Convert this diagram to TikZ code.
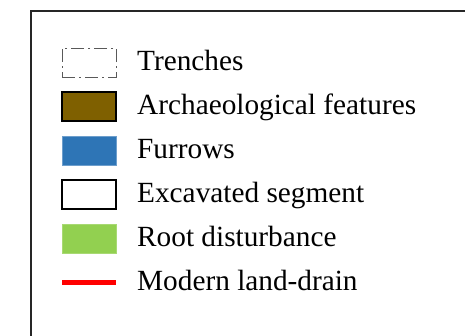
\documentclass[tikz,border=0pt]{standalone}
\usepackage{fontspec}
\setmainfont{Liberation Serif}
\usetikzlibrary{positioning}
\definecolor{archbrown}{HTML}{7F6000}
\definecolor{furrowblue}{HTML}{2E75B6}
\definecolor{rootgreen}{HTML}{92D050}
\definecolor{trenchgrey}{HTML}{595959}
\tikzset{
  keybox/.style={minimum width=54bp, minimum height=29bp, inner sep=0pt, outer sep=0pt},
  keytext/.style={anchor=base west, inner sep=0pt, font=\fontsize{29.4}{35}\selectfont},
}
\begin{document}
\begin{tikzpicture}[x=1bp,y=-1bp]
        \clip (0,0) rectangle (465,335);
        \fill [white] (0,0) rectangle (465,335);
        \draw [line width=2bp,black!85] (31,11) rectangle (520,390);
        % key symbols
        \node (trench) [keybox,draw=trenchgrey,line width=1bp,
            dash pattern=on 13bp off 4bp on 2bp off 4bp] at (89,62.5) {};
        \node (arch) [keybox,fill=archbrown,draw=black,line width=1.5bp] at (89,106.5) {};
        \node (furrow) [keybox,fill=furrowblue,draw=furrowblue!70!white,line width=.5bp] at (89,150.5) {};
        \node (excav) [keybox,fill=white,draw=black,line width=1.5bp] at (89,194.5) {};
        \node (root) [keybox,fill=rootgreen,draw=rootgreen!80!white,line width=.5bp] at (89,238.5) {};
        \coordinate (drainA) at (62,282.5);
        \coordinate (drainB) at (116,282.5);
        \draw [red,line width=5bp] (drainA) -- (drainB);
        % labels
        \foreach[count=\i] \t in {Trenches,Archaeological features,Furrows,
            Excavated segment,Root disturbance,Modern land-drain}{
            \node (txt\i) [keytext] at (137,26+\i*44) {\t};
        }
\end{tikzpicture}
\end{document}
